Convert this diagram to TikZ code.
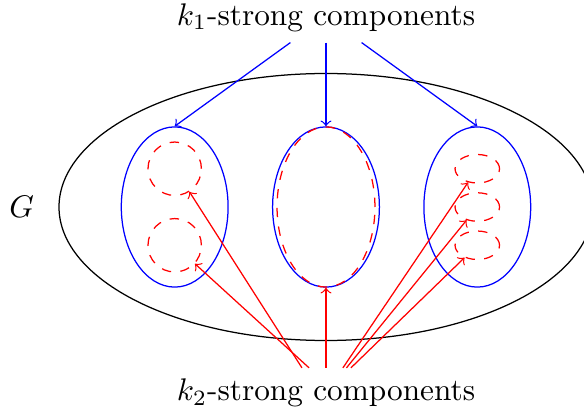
\documentclass[tikz,border=0pt]{standalone}
\usetikzlibrary{shapes.geometric}
\begin{document}
\begin{tikzpicture}[
    comp/.style={draw=blue, ellipse, inner sep=0pt, minimum width=1.2cm, minimum height=1.8cm},
    subcomp/.style={draw=red, dashed, ellipse, inner sep=0pt},
    up/.style={blue,->},
    down/.style={red,->}]
  \useasboundingbox (-3.663,-2.371) rectangle (2.899,2.326);
  \draw (0,0) ellipse (3cm and 1.5cm);
  \node (G) at (-3.42,0) {$G$};
  % k_1-strong components
  \node[comp] (c1) at (-1.7,0) {};
  \node[comp] (c2) at (0,0) {};
  \node[comp] (c3) at (1.7,0) {};
  % k_2-strong components
  \node[subcomp, minimum width=.6cm, minimum height=.6cm] (a1) at (-1.7,.43) {};
  \node[subcomp, minimum width=.6cm, minimum height=.6cm] (a2) at (-1.7,-.43) {};
  \node[subcomp, minimum width=1.1cm, minimum height=1.8cm] (b1) at (0,0) {};
  \node[subcomp, minimum width=.5cm, minimum height=.32cm] (d1) at (1.7,.43) {};
  \node[subcomp, minimum width=.5cm, minimum height=.32cm] (d2) at (1.7,0) {};
  \node[subcomp, minimum width=.5cm, minimum height=.32cm] (d3) at (1.7,-.43) {};
  \node (top) at (0,2.13) {$k_1$-strong components};
  \node (bot) at (0,-2.09) {$k_2$-strong components};
  \draw[up] ([xshift=-.4cm]top.south) -- (c1.north);
  \draw[up] (top.south) -- (c2.north);
  \draw[up] ([xshift=.4cm]top.south) -- (c3.north);
  \draw[down] ([xshift=-.27cm]bot.north) -- (a1);
  \draw[down] ([xshift=-.19cm]bot.north) -- (a2);
  \draw[down] (bot.north) -- (b1.south);
  \draw[down] ([xshift=.19cm]bot.north) -- (d1);
  \draw[down] ([xshift=.23cm]bot.north) -- (d2);
  \draw[down] ([xshift=.28cm]bot.north) -- (d3);
\end{tikzpicture}
\end{document}
